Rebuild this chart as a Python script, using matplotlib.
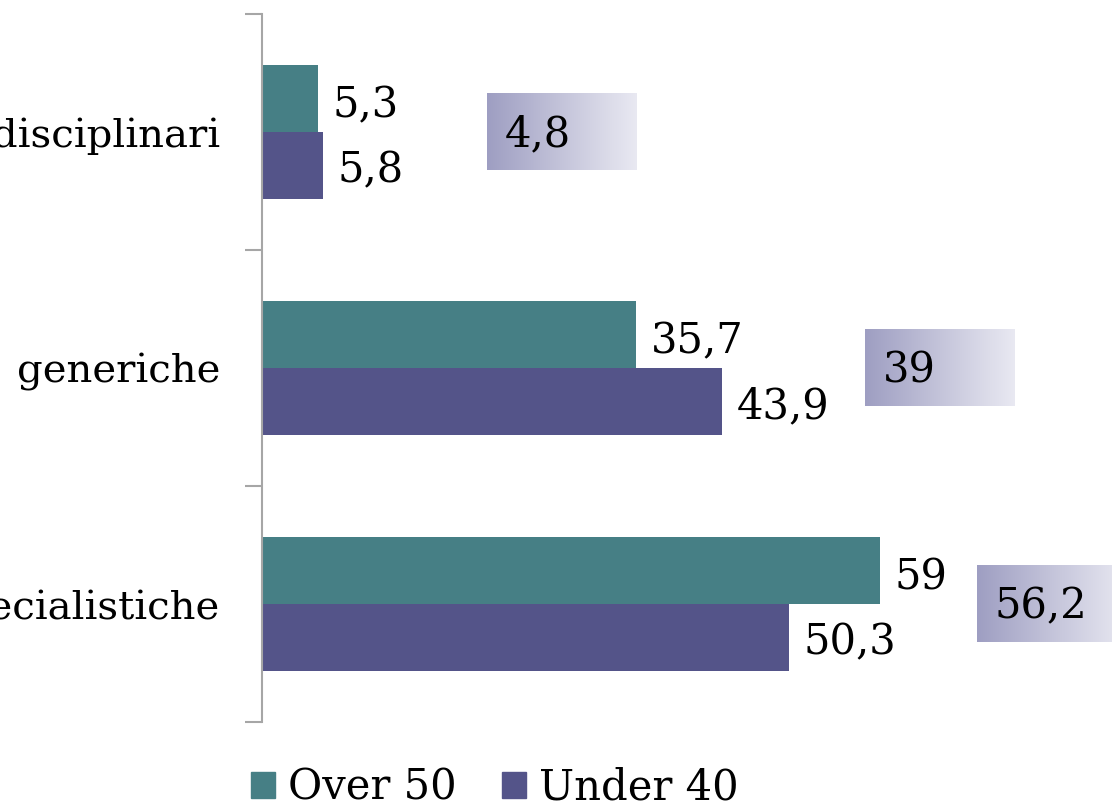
import matplotlib.pyplot as plt
import numpy as np
from matplotlib.colors import LinearSegmentedColormap
from matplotlib.patches import Patch

# data
categories = ["interdisciplinari", "generiche", "specialistiche"]
over_50 = [5.3, 35.7, 59]
under_40 = [5.8, 43.9, 50.3]
totals = [4.8, 39, 56.2]

# layout of the shaded total boxes (data units, left edge)
box_left = [21.5, 57.5, 68.2]
box_width = 14.3
box_height = 0.326

TEAL = "#467F85"
PURPLE = "#545489"
FONT = "DejaVu Serif"


def fmt(v):
    return f"{v:g}".replace(".", ",")


fig = plt.figure(figsize=(11.12, 8.11), dpi=100)
ax = fig.add_axes([262 / 1112, 1 - 722 / 811, 850 / 1112, 708 / 811])

y = np.arange(len(categories))
h = 0.284
ax.barh(y - h / 2, over_50, height=h, color=TEAL, label="Over 50")
ax.barh(y + h / 2, under_40, height=h, color=PURPLE, label="Under 40")

for yi, v in zip(y, over_50):
    ax.text(v + 1.4, yi - h / 2 + 0.03, fmt(v), va="center", ha="left",
            fontsize=30, family=FONT)
for yi, v in zip(y, under_40):
    ax.text(v + 1.4, yi + h / 2 + 0.02, fmt(v), va="center", ha="left",
            fontsize=30, family=FONT)

cmap = LinearSegmentedColormap.from_list("box", ["#9E9EC2", "#C4C4DA", "#E9E9F2"])
grad = np.linspace(0, 1, 256).reshape(1, -1)
for yi, x0, t in zip(y, box_left, totals):
    ax.imshow(grad, cmap=cmap, aspect="auto", clip_on=False, zorder=1,
              extent=[x0, x0 + box_width, yi + box_height / 2, yi - box_height / 2])
    ax.text(x0 + 1.7, yi + 0.01, fmt(t), va="center", ha="left",
            fontsize=30, family=FONT, zorder=2)

ax.set_xlim(0, 850 / 10.48)
ax.set_ylim(2.5, -0.5)

for side in ["top", "right", "bottom"]:
    ax.spines[side].set_visible(False)
ax.spines["left"].set_color("#A6A6A6")
ax.spines["left"].set_linewidth(1.5)
ax.set_xticks([])
ax.set_yticks([-0.5, 0.5, 1.5, 2.5])
ax.set_yticklabels([])
ax.tick_params(axis="y", which="major", length=12, width=1.5, color="#A6A6A6")
ax.set_yticks(y, minor=True)
ax.set_yticklabels(categories, minor=True, fontsize=29, family=FONT)
ax.tick_params(axis="y", which="minor", length=0, pad=30)

handles = [Patch(color=TEAL), Patch(color=PURPLE)]
fig.legend(handles, ["Over 50", "Under 40"], loc="center left",
           bbox_to_anchor=(251 / 1112, 1 - 788 / 811), ncol=2, frameon=False,
           prop={"family": FONT, "size": 30}, handlelength=0.58, handleheight=0.58,
           handletextpad=0.3, columnspacing=1.1, borderaxespad=0, borderpad=0)

fig.savefig("out.png", dpi=100)
